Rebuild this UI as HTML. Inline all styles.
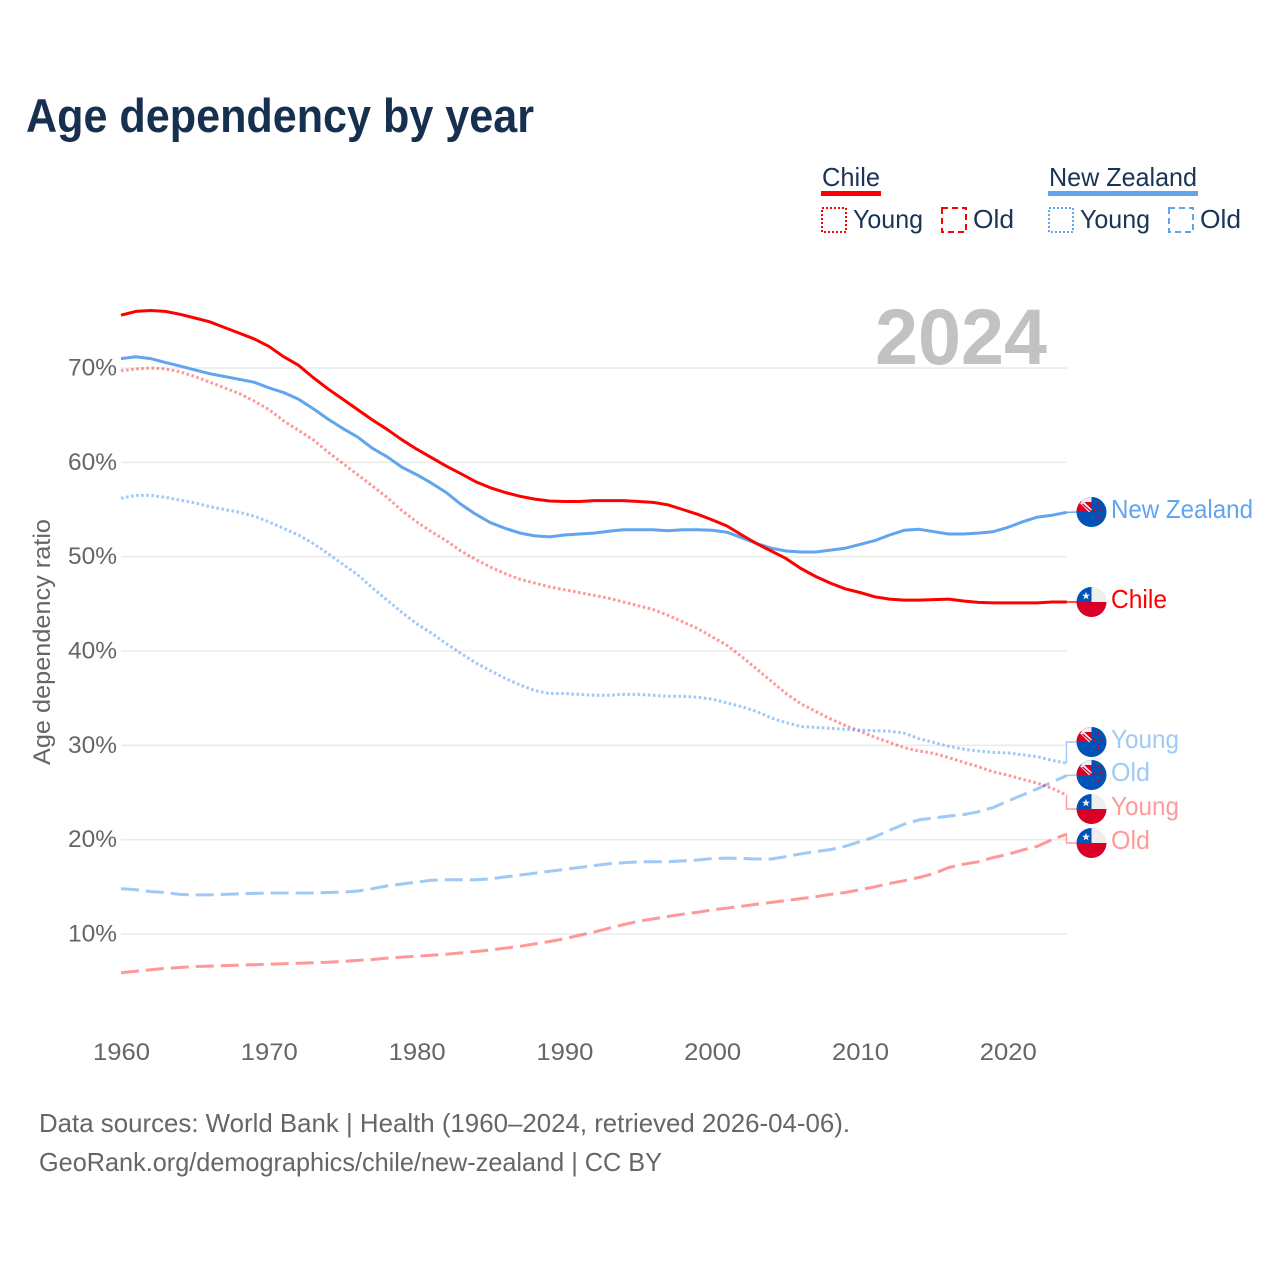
<!DOCTYPE html>
<html lang="en">
<head>
<meta charset="utf-8">
<title>Age dependency by year</title>
<style>
html,body{margin:0;padding:0;background:#fff;}
svg{display:block;font-family:"Liberation Sans",sans-serif;}
</style>
</head>
<body>
<svg id="chart" xmlns="http://www.w3.org/2000/svg" width="1280" height="1280" viewBox="0 0 1280 1280">
  <text x="26" y="132" font-size="47" font-weight="700" fill="#17304f" textLength="508" lengthAdjust="spacingAndGlyphs">Age dependency by year</text>

  <g font-size="26" fill="#1a3455">
    <text x="822" y="186" textLength="58" lengthAdjust="spacingAndGlyphs">Chile</text>
    <rect x="821" y="191" width="60" height="5" fill="#ff0000"/>
    <rect x="822" y="208" width="24" height="24" fill="none" stroke="#ff0000" stroke-width="2" stroke-dasharray="2 2"/>
    <text x="853" y="228" textLength="70" lengthAdjust="spacingAndGlyphs">Young</text>
    <rect x="942" y="208" width="24" height="24" fill="none" stroke="#ff0000" stroke-width="2" stroke-dasharray="6 4"/>
    <text x="973" y="228" textLength="41" lengthAdjust="spacingAndGlyphs">Old</text>
    <text x="1049" y="186" textLength="148" lengthAdjust="spacingAndGlyphs">New Zealand</text>
    <rect x="1048" y="191" width="150" height="5" fill="#60a5ee"/>
    <rect x="1049" y="208" width="24" height="24" fill="none" stroke="#60a5ee" stroke-width="2" stroke-dasharray="2 2"/>
    <text x="1080" y="228" textLength="70" lengthAdjust="spacingAndGlyphs">Young</text>
    <rect x="1169" y="208" width="24" height="24" fill="none" stroke="#60a5ee" stroke-width="2" stroke-dasharray="6 4"/>
    <text x="1200" y="228" textLength="41" lengthAdjust="spacingAndGlyphs">Old</text>
  </g>

  <g id="grid"></g>
  <text x="875" y="364" font-size="79" font-weight="700" fill="#c2c2c2" textLength="172" lengthAdjust="spacingAndGlyphs">2024</text>
  <g id="yticks" font-size="24" fill="#666666"></g>
  <g id="xticks" font-size="24" fill="#666666"></g>
  <text transform="translate(50,642) rotate(-90)" text-anchor="middle" font-size="24" fill="#666666" textLength="246" lengthAdjust="spacingAndGlyphs">Age dependency ratio</text>
  <g id="series"></g>
  <g id="labels" font-size="26"></g>

  <g font-size="26" fill="#666666">
    <text x="39" y="1132" textLength="811" lengthAdjust="spacingAndGlyphs">Data sources: World Bank | Health (1960–2024, retrieved 2026-04-06).</text>
    <text x="39" y="1171" textLength="623" lengthAdjust="spacingAndGlyphs">GeoRank.org/demographics/chile/new-zealand | CC BY</text>
  </g>
</svg>
<script>
const startYear = 1960;
const xTickYears = [1960, 1970, 1980, 1990, 2000, 2010, 2020];
const yTickValues = [10, 20, 30, 40, 50, 60, 70];

const chileTotal = [75.6,76.0,76.1,76.0,75.7,75.3,74.9,74.3,73.7,73.1,72.3,71.2,70.3,69.0,67.8,66.7,65.6,64.5,63.5,62.4,61.4,60.5,59.6,58.8,57.95,57.3,56.8,56.4,56.1,55.9,55.85,55.85,55.95,55.95,55.95,55.85,55.75,55.5,55.0,54.5,53.9,53.25,52.3,51.4,50.6,49.8,48.75,47.9,47.2,46.6,46.2,45.75,45.5,45.4,45.4,45.45,45.5,45.3,45.15,45.1,45.1,45.1,45.1,45.2,45.2];
const nzTotal = [71.0,71.2,71.0,70.6,70.2,69.8,69.4,69.1,68.8,68.5,67.9,67.4,66.7,65.7,64.6,63.6,62.7,61.5,60.6,59.5,58.7,57.8,56.8,55.55,54.5,53.6,53.0,52.5,52.2,52.1,52.3,52.4,52.5,52.7,52.85,52.85,52.85,52.75,52.85,52.85,52.8,52.6,52.0,51.4,50.9,50.6,50.5,50.5,50.7,50.9,51.3,51.7,52.3,52.8,52.9,52.65,52.4,52.4,52.5,52.65,53.1,53.7,54.2,54.4,54.7];
const chileYoung = [69.7,69.9,70.0,69.9,69.6,69.1,68.5,67.9,67.3,66.5,65.6,64.4,63.4,62.4,61.1,59.9,58.7,57.5,56.3,54.9,53.7,52.65,51.7,50.6,49.7,48.9,48.2,47.6,47.2,46.8,46.5,46.2,45.9,45.6,45.2,44.8,44.4,43.8,43.1,42.4,41.5,40.6,39.4,38.1,36.8,35.5,34.4,33.6,32.8,32.1,31.5,30.85,30.3,29.75,29.4,29.15,28.7,28.2,27.75,27.2,26.85,26.4,26.0,25.45,24.7];
const nzYoung = [56.2,56.5,56.5,56.3,56.0,55.7,55.3,55.0,54.7,54.3,53.7,53.0,52.3,51.4,50.35,49.2,48.1,46.7,45.4,44.1,42.9,41.9,40.8,39.75,38.75,37.9,37.1,36.4,35.8,35.5,35.5,35.4,35.3,35.3,35.4,35.4,35.3,35.2,35.2,35.1,34.9,34.5,34.1,33.6,32.9,32.4,32.0,31.9,31.8,31.7,31.6,31.55,31.5,31.3,30.7,30.3,29.9,29.6,29.4,29.25,29.2,29.0,28.8,28.4,28.1];
const nzOld = [14.8,14.7,14.5,14.4,14.2,14.15,14.15,14.2,14.25,14.3,14.35,14.35,14.35,14.35,14.4,14.45,14.55,14.8,15.1,15.3,15.5,15.7,15.75,15.75,15.75,15.85,16.05,16.25,16.45,16.65,16.85,17.05,17.25,17.45,17.55,17.65,17.65,17.65,17.75,17.85,18.0,18.05,18.0,17.95,17.95,18.2,18.5,18.75,18.95,19.3,19.8,20.3,21.0,21.65,22.1,22.3,22.5,22.65,22.95,23.4,24.1,24.75,25.4,26.1,26.8];
const chileOld = [5.9,6.05,6.2,6.35,6.45,6.55,6.6,6.65,6.7,6.75,6.8,6.85,6.9,6.95,7.0,7.1,7.2,7.3,7.45,7.55,7.65,7.75,7.85,8.0,8.15,8.3,8.5,8.7,8.95,9.2,9.5,9.85,10.2,10.6,11.0,11.35,11.6,11.85,12.1,12.3,12.55,12.75,12.95,13.15,13.35,13.55,13.75,13.95,14.2,14.4,14.7,15.0,15.35,15.65,16.0,16.4,17.05,17.4,17.65,18.1,18.45,18.9,19.3,20.0,20.6];

const NS = 'http://www.w3.org/2000/svg';
const xScale = function (year) { return 121 + (year - startYear) * 14.78; };
const yScale = function (value) { return 934 - (value - 10) * 9.433; };
const pointsFor = function (values) {
  return values.map(function (v, i) { return xScale(startYear + i).toFixed(1) + ',' + yScale(v).toFixed(1); }).join(' ');
};
const make = function (tag, attrs, parent) {
  const el = document.createElementNS(NS, tag);
  Object.keys(attrs).forEach(function (k) { el.setAttribute(k, attrs[k]); });
  parent.appendChild(el);
  return el;
};
const grid = document.getElementById('grid');
const yticks = document.getElementById('yticks');
const xticks = document.getElementById('xticks');
const seriesLayer = document.getElementById('series');
const labelLayer = document.getElementById('labels');

yTickValues.forEach(function (v) {
  const line = make('line', { x1: 121, x2: 1067, y1: yScale(v), y2: yScale(v), stroke: '#ebebeb', 'stroke-width': 1.6 }, grid);
  
  
  const t = make('text', { x: 68, y: yScale(v) + 7.5, textLength: 49, lengthAdjust: 'spacingAndGlyphs' }, yticks);
  t.textContent = v + '%';
  
  
});

xTickYears.forEach(function (year) {
  const t = make('text', { x: xScale(year) - 28, y: 1060, textLength: 57, lengthAdjust: 'spacingAndGlyphs' }, xticks);
  t.textContent = String(year);
  
  
});

const drawLine = function (name, values, color, opacity, dash) {
  const line = make('polyline', { points: pointsFor(values), fill: 'none', stroke: color, 'stroke-opacity': opacity, 'stroke-width': 3, 'stroke-dasharray': dash, 'stroke-linejoin': 'round' }, seriesLayer);
  
  
};
drawLine('line-chile-old', chileOld, '#ff0000', 0.4, '18 7');
drawLine('line-new-zealand-old', nzOld, '#60a5ee', 0.6, '18 7');
drawLine('line-chile-young', chileYoung, '#ff0000', 0.4, '2.6 2.5');
drawLine('line-new-zealand-young', nzYoung, '#60a5ee', 0.6, '2.6 2.5');
drawLine('line-new-zealand-total', nzTotal, '#60a5ee', 1, 'none');
drawLine('line-chile-total', chileTotal, '#ff0000', 1, 'none');

let clipCount = 0;
const drawFlag = function (country, cx, cy, parent) {
  clipCount += 1;
  const cid = 'flag-clip-' + clipCount;
  const clip = make('clipPath', { id: cid }, parent);
  make('circle', { cx: cx, cy: cy, r: 15 }, clip);
  const g = make('g', { 'clip-path': 'url(#' + cid + ')' }, parent);
  
  
  const star = function (sx, sy, r, fill) {
    let pts = [];
    for (let i = 0; i < 10; i++) {
      const a = -Math.PI / 2 + i * Math.PI / 5;
      const rr = i % 2 ? r * 0.42 : r;
      pts.push((sx + rr * Math.cos(a)).toFixed(2) + ',' + (sy + rr * Math.sin(a)).toFixed(2));
    }
    make('polygon', { points: pts.join(' '), fill: fill }, g);
  };
  if (country === 'chile') {
    make('rect', { x: cx - 15, y: cy - 15, width: 30, height: 15, fill: '#eeeeee' }, g);
    make('rect', { x: cx - 15, y: cy, width: 30, height: 15, fill: '#d80027' }, g);
    make('rect', { x: cx - 15, y: cy - 15, width: 15, height: 15, fill: '#0052b4' }, g);
    star(cx - 5.5, cy - 6, 4.2, '#eeeeee');
  } else {
    make('rect', { x: cx - 15, y: cy - 15, width: 30, height: 30, fill: '#0052b4' }, g);
    make('rect', { x: cx - 15, y: cy - 15, width: 15, height: 15, fill: '#d80027' }, g);
    make('rect', { x: cx - 10, y: cy - 15, width: 10, height: 5, fill: '#eeeeee' }, g);
    make('line', { x1: cx - 10, y1: cy - 10, x2: cx - 1, y2: cy - 1, stroke: '#eeeeee', 'stroke-width': 4 }, g);
    make('line', { x1: cx - 9, y1: cy - 8, x2: cx - 1, y2: cy - 1, stroke: '#d80027', 'stroke-width': 1.2 }, g);
    star(cx + 7, cy - 8, 2.1, '#d80027');
    star(cx + 3, cy - 2, 2.1, '#d80027');
    star(cx + 10, cy - 2, 2.1, '#d80027');
    star(cx + 7, cy + 6, 2.4, '#d80027');
  }
};

const drawEndLabel = function (name, text, values, country, color, labelColor, labelY, width) {
  const yEnd = yScale(values[values.length - 1]);
  const pts = Math.abs(yEnd - labelY) > 6
    ? [1066.5 + ',' + yEnd.toFixed(1), 1066.5 + ',' + labelY, 1078 + ',' + labelY]
    : [1067 + ',' + yEnd.toFixed(1), 1078 + ',' + labelY];
  const leader = make('polyline', { points: pts.join(' '), fill: 'none', stroke: labelColor, 'stroke-width': 1.4 }, labelLayer);
  
  
  drawFlag(country, 1091.5, labelY, labelLayer);
  const t = make('text', { x: 1111, y: labelY + 6, fill: labelColor, textLength: width, lengthAdjust: 'spacingAndGlyphs' }, labelLayer);
  t.textContent = text;
  
  
};
drawEndLabel('new-zealand-total', 'New Zealand', nzTotal, 'new-zealand', '#60a5ee', '#60a5ee', 512, 142);
drawEndLabel('chile-total', 'Chile', chileTotal, 'chile', '#ff0000', '#ff0000', 602, 56);
drawEndLabel('new-zealand-young', 'Young', nzYoung, 'new-zealand', '#60a5ee', '#a0c9f5', 742, 68);
drawEndLabel('new-zealand-old', 'Old', nzOld, 'new-zealand', '#60a5ee', '#a0c9f5', 775, 39);
drawEndLabel('chile-young', 'Young', chileYoung, 'chile', '#ff0000', '#ff9a9a', 809, 68);
drawEndLabel('chile-old', 'Old', chileOld, 'chile', '#ff0000', '#ff9a9a', 843, 39);
</script>
</body>
</html>
